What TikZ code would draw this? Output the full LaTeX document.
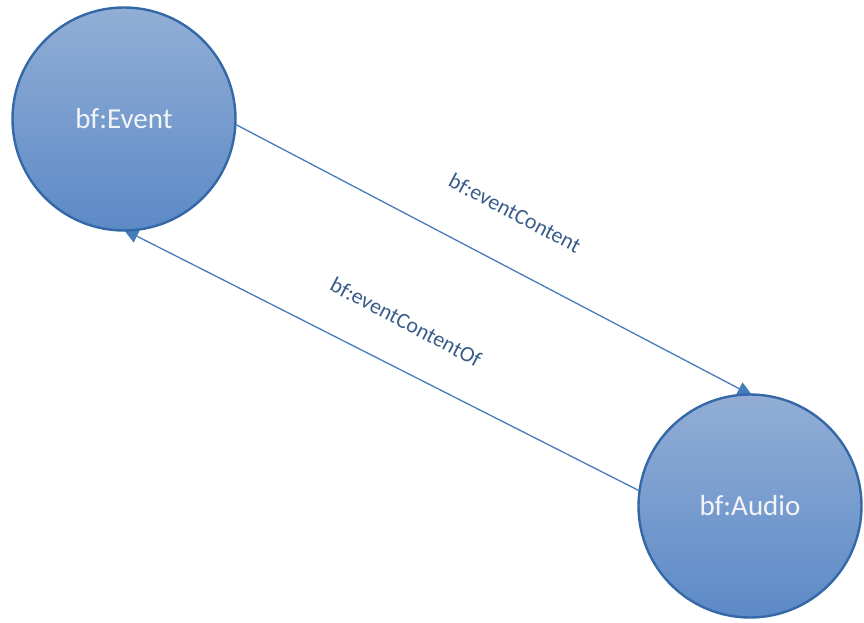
\documentclass[tikz,border=0pt]{standalone}
\usepackage{fontspec}
\setmainfont{Carlito}
\usetikzlibrary{arrows.meta}
\definecolor{nodetop}{RGB}{146,174,214}
\definecolor{nodebot}{RGB}{92,138,198}
\definecolor{nodeborder}{RGB}{52,104,166}
\definecolor{nodetext}{RGB}{242,244,248}
\definecolor{linecol}{RGB}{70,124,186}
\definecolor{labelcol}{RGB}{58,92,138}
\pgfdeclarelayer{background}
\pgfsetlayers{background,main}
\begin{document}
\begin{tikzpicture}[x=1pt,y=1pt,
  concept/.style={circle, draw=nodeborder, line width=2.4pt, top color=nodetop,
    bottom color=nodebot, minimum size=223pt, inner sep=0pt, text=nodetext,
    font=\fontsize{29}{34}\selectfont},
  rel/.style={draw=linecol, line width=1.3pt,
    -{Triangle[length=15pt,width=14pt]}, shorten >=-5pt},
  rellabel/.style={text=labelcol, font=\fontsize{22}{26}\selectfont,
    rotate=-27.8, inner sep=0pt}]
\useasboundingbox (0,0) rectangle (864,622);
\node[concept] (event) at (124,503) {bf:Event};
\node[concept] (audio) at (750,116) {bf:Audio};
\begin{pgfonlayer}{background}
\draw[rel] (event.-3) -- (audio.91);
\draw[rel] (audio.172) -- (event.-88);
\end{pgfonlayer}
\node[rellabel] (l1) at (515,409) {bf:eventContent};
\node[rellabel] (l2) at (406,300) {bf:eventContentOf};
\end{tikzpicture}
\end{document}
